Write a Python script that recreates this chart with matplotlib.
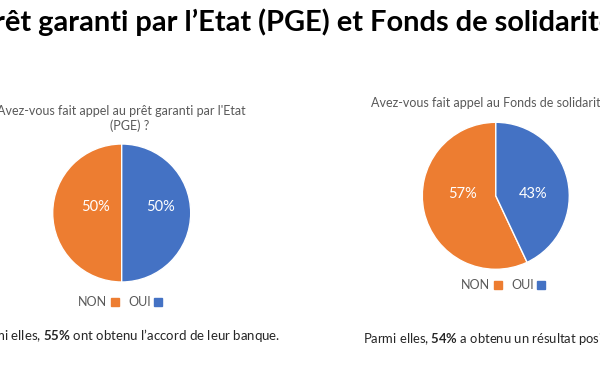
import matplotlib
matplotlib.use("Agg")
import matplotlib.pyplot as plt
from matplotlib.lines import Line2D

plt.rcParams['font.family'] = ['Lato', 'DejaVu Sans']
plt.rcParams['mathtext.fontset'] = 'custom'
plt.rcParams['mathtext.rm'] = 'Lato'
plt.rcParams['mathtext.bf'] = 'Lato:bold'

# ---- data ----
title = "Prêt garanti par l’Etat (PGE) et Fonds de solidarité"
categories = ["NON", "OUI"]
colors = ["#ED7D31", "#4472C4"]
pge_values = [50, 50]
fonds_values = [57, 43]
pge_question = ["Avez-vous fait appel au prêt garanti par l'Etat", "(PGE) ?"]
fonds_question = "Avez-vous fait appel au Fonds de solidarité"
pge_share = 55
fonds_share = 54
pge_note = ("Parmi elles, ", " ont obtenu l’accord de leur banque.")
fonds_note = ("Parmi elles, ", " a obtenu un résultat positif.")

W, H = 600, 372
fig = plt.figure(figsize=(W / 100, H / 100), dpi=100)
fig.patch.set_facecolor("white")

def px(x, y):
    return x / W, 1 - y / H

def add_pie(cx, cy, r, values, label_pos):
    ax = fig.add_axes([(cx - r) / W, (H - cy - r) / H, 2 * r / W, 2 * r / H])
    wedges, texts, autotexts = ax.pie(
        values, colors=colors, startangle=90, counterclock=True,
        autopct=lambda p: f"{p:.0f}%", pctdistance=0.5,
        wedgeprops=dict(edgecolor="white", linewidth=1.0),
        textprops=dict(color="white", fontsize=10.5))
    for t, pos in zip(autotexts, label_pos):
        t.set_position(pos)
        t.set_ha("center")
        t.set_va("center")
    ax.set_aspect("equal")
    ax.set_xlim(-1.0, 1.0)
    ax.set_ylim(-1.0, 1.0)
    ax.axis("off")
    return ax

add_pie(121.7, 213, 69, pge_values, [(-0.38, 0.09), (0.56, 0.09)])
add_pie(495.8, 195.8, 73.5, fonds_values, [(-0.45, 0.02), (0.51, 0.03)])

# title (slide is cropped: the text runs past both edges)
fig.text(*px(-24, 22), title, ha="left", va="center", fontsize=20.9,
         fontweight="bold", color="black")

# questions
grey = "#595959"
fig.text(*px(121, 111), pge_question[0], ha="center", va="center", fontsize=9.0, color=grey)
fig.text(*px(130, 126), pge_question[1], ha="center", va="center", fontsize=9.0, color=grey)
fig.text(*px(371, 103), fonds_question, ha="left", va="center", fontsize=9.0, color=grey)

# legends
def add_legend(x, y):
    handles = [Line2D([], [], marker="s", linestyle="none", markersize=6.2,
                      color=c) for c in colors]
    fig.legend(handles, categories, loc="center", bbox_to_anchor=px(x, y),
               ncol=2, frameon=False, markerfirst=False, fontsize=9.0,
               handlelength=0.6, handletextpad=0.3, columnspacing=0.8,
               labelcolor=grey, borderpad=0)

add_legend(120, 302)
add_legend(503, 285)

# notes
dark = "#262626"
fig.text(*px(-26, 336), pge_note[0] + r"$\bf{" + str(pge_share) + r"\%}$" + pge_note[1],
         ha="left", va="center", fontsize=9.5, color=dark)
fig.text(*px(363, 339), fonds_note[0] + r"$\bf{" + str(fonds_share) + r"\%}$" + fonds_note[1],
         ha="left", va="center", fontsize=9.4, color=dark)

fig.savefig("out.png", dpi=100)
